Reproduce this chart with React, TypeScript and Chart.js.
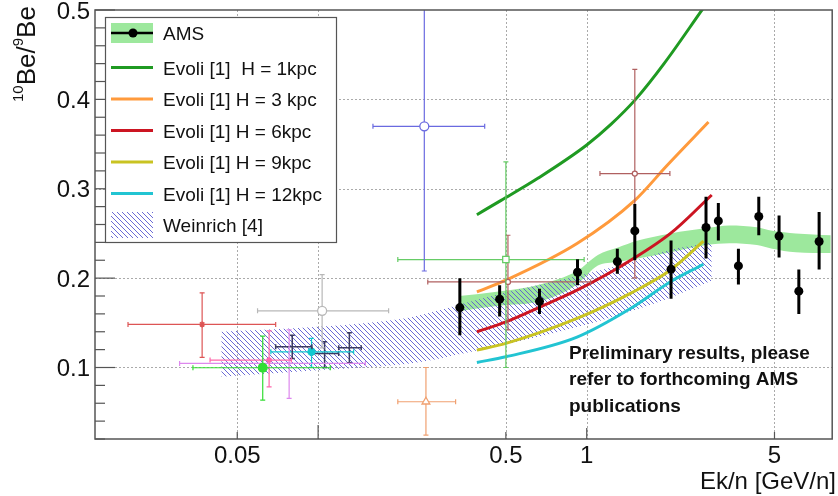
import React, { useEffect, useRef } from "react";
import { Chart, registerables } from "chart.js";
Chart.register(...registerables);

// ---------------- data ----------------
const amsEnergy = [0.337, 0.474, 0.667, 0.924, 1.3, 1.51, 2.06, 2.78, 3.09, 3.67, 4.37, 5.2, 6.16, 7.33];
const amsRatio = [0.167, 0.1765, 0.174, 0.2066, 0.2185, 0.2528, 0.21, 0.2566, 0.264, 0.2137, 0.269, 0.247, 0.1854, 0.241];
const amsErrLow = [0.136, 0.157, 0.16, 0.192, 0.205, 0.22, 0.177, 0.222, 0.242, 0.193, 0.248, 0.223, 0.16, 0.2096];
const amsErrHigh = [0.2, 0.192, 0.188, 0.221, 0.233, 0.283, 0.242, 0.291, 0.284, 0.233, 0.291, 0.27, 0.2096, 0.274];

const amsBandEnergy = [0.335, 0.47, 0.67, 0.92, 1.1, 1.3, 1.55, 2.05, 2.8, 3.4, 4.3, 4.9, 6.0, 8.1];
const amsBandHigh = [0.18, 0.185, 0.193, 0.208, 0.226, 0.234, 0.242, 0.25, 0.256, 0.259, 0.257, 0.253, 0.25, 0.248];
const amsBandLow = [0.163, 0.169, 0.174, 0.193, 0.214, 0.218, 0.222, 0.229, 0.237, 0.239, 0.237, 0.233, 0.229, 0.228];

const weinrichEnergy = [0.0436, 0.1, 0.2, 0.25, 0.35, 0.5, 0.7, 1.0, 1.5, 2.0, 2.92];
const weinrichHigh = [0.14, 0.1455, 0.154, 0.16, 0.172, 0.184, 0.194, 0.205, 0.219, 0.231, 0.24];
const weinrichLow = [0.0896, 0.097, 0.103, 0.107, 0.116, 0.126, 0.136, 0.148, 0.164, 0.177, 0.197];

const evoli1E = [0.39, 0.48, 0.66, 1.0, 1.23, 1.52, 1.94, 2.7];
const evoli1R = [0.271, 0.287, 0.312, 0.349, 0.372, 0.4, 0.44, 0.501];
const evoli3E = [0.39, 0.5, 0.92, 1.51, 1.99, 2.84];
const evoli3R = [0.1846, 0.1977, 0.2387, 0.287, 0.326, 0.3746];
const evoli6E = [0.39, 0.5, 0.674, 0.92, 1.3, 2.05, 2.92];
const evoli6R = [0.14, 0.151, 0.168, 0.1865, 0.211, 0.25, 0.293];
const evoli9E = [0.39, 0.5, 0.92, 1.455, 2.05, 2.72];
const evoli9R = [0.1194, 0.127, 0.155, 0.183, 0.209, 0.2413];
const evoli12E = [0.39, 0.5, 0.92, 1.455, 2.05, 2.72];
const evoli12R = [0.1057, 0.112, 0.134, 0.166, 0.196, 0.2155];

// other experiments
const otherEnergy = [0.037, 0.0622, 0.0657, 0.078, 0.0801, 0.0945, 0.1035, 0.1057, 0.1307, 0.2485, 0.5, 0.509, 1.51, 0.252];
const otherRatio = [0.1482, 0.0997, 0.1083, 0.1046, 0.1231, 0.1175, 0.1634, 0.1158, 0.122, 0.3698, 0.2208, 0.1958, 0.317, 0.0617];
const otherELow = [0.0196, 0.0342, 0.0396, 0.0305, 0.0695, 0.0667, 0.0595, 0.0948, 0.1193, 0.16, 0.198, 0.256, 1.12, 0.198];
const otherEHigh = [0.0695, 0.111, 0.0795, 0.15, 0.0948, 0.1356, 0.183, 0.1193, 0.1447, 0.417, 0.978, 1.034, 2.04, 0.325];
const otherRLow = [0.1113, 0.0636, 0.0784, 0.0654, 0.11, 0.1001, 0.122, 0.1, 0.1053, 0.208, 0.1, 0.142, 0.2003, 0.0244];
const otherRHigh = [0.1835, 0.135, 0.141, 0.142, 0.1362, 0.1325, 0.204, 0.1287, 0.1388, 0.56, 0.33, 0.248, 0.4335, 0.1];
const otherStyles = [
  { color: "#dd5555", shape: "star", r: 3, open: false, w: 1.2 },
  { color: "#33dd33", shape: "circle", r: 5, open: false, w: 1.2 },
  { color: "#ff66aa", shape: "star", r: 3, open: false, w: 1.2 },
  { color: "#dd88ee", shape: "circle", r: 1.5, open: false, w: 1.2 },
  { color: "#3a3a60", shape: "circle", r: 0, open: false, w: 1.5 },
  { color: "#11c8d0", shape: "circle", r: 4, open: false, w: 1.2 },
  { color: "#b8b8b8", shape: "circle", r: 4.5, open: true, w: 1.2 },
  { color: "#3a3a60", shape: "circle", r: 0, open: false, w: 1.5 },
  { color: "#3a3a60", shape: "circle", r: 0, open: false, w: 1.5 },
  { color: "#6a6ae0", shape: "circle", r: 4.5, open: true, w: 1.2 },
  { color: "#66cc66", shape: "rect", r: 4.5, open: true, w: 1.2 },
  { color: "#b06060", shape: "circle", r: 2.5, open: true, w: 1.2 },
  { color: "#b06060", shape: "circle", r: 2.5, open: true, w: 1.2 },
  { color: "#f0a070", shape: "triangle", r: 4.5, open: true, w: 1.2 },
];

const xGridValues = [0.05, 0.1, 0.5, 1, 5];
const xLabelValues = [0.05, 0.5, 1, 5];
const xLabels = ["0.05", "0.5", "1", "5"];
const yLabelValues = [0.1, 0.2, 0.3, 0.4, 0.5];
const yLabels = ["0.1", "0.2", "0.3", "0.4", "0.5"];
const yGridValues = [0.1, 0.2, 0.3, 0.4];
const yMinorStep = 0.02;

const legendLabels = [
  "AMS",
  "Evoli [1]  H = 1kpc",
  "Evoli [1] H = 3 kpc",
  "Evoli [1] H = 6kpc",
  "Evoli [1] H = 9kpc",
  "Evoli [1] H = 12kpc",
  "Weinrich [4]",
];
const evoliColors = ["#1f9a22", "#ff9a3c", "#cc1522", "#c9c322", "#22c4d2"];
const noteLines = ["Preliminary results, please", "refer to forthcoming AMS", "publications"];
const xTitle = "Ek/n [GeV/n]";

const FONT = '"Liberation Sans", Arial, Helvetica, sans-serif';

function pts(xs: number[], ys: number[]) {
  return xs.map((x, i) => ({ x, y: ys[i] }));
}

function makeHatch(color: string, size: number) {
  const c = document.createElement("canvas");
  c.width = size;
  c.height = size;
  const g = c.getContext("2d")!;
  g.strokeStyle = color;
  g.lineWidth = 1;
  g.beginPath();
  g.moveTo(-1, -1);
  g.lineTo(size + 1, size + 1);
  g.moveTo(-1, size - 1);
  g.lineTo(1, size + 1);
  g.moveTo(size - 1, -1);
  g.lineTo(size + 1, 1);
  g.stroke();
  return g.createPattern(c, "repeat")!;
}

export default function App() {
  const ref = useRef<HTMLCanvasElement | null>(null);
  useEffect(() => {
    const canvas = ref.current!;
    const hatch = makeHatch("rgba(90,90,210,0.9)", 5);
    const green = "#9de89d";

    const datasets: any[] = [];
    datasets.push({
      label: "AMS",
      data: pts(amsEnergy, amsRatio),
      showLine: false,
      pointStyle: "circle",
      pointRadius: 4.5,
      backgroundColor: "#000",
      borderColor: "#000",
      pointBorderWidth: 0,
      err: { yLow: amsErrLow, yHigh: amsErrHigh, color: "#000", width: 3, caps: false },
    });
    otherEnergy.forEach((e, i) => {
      const s = otherStyles[i];
      datasets.push({
        label: "exp" + i,
        data: [{ x: e, y: otherRatio[i] }],
        showLine: false,
        pointStyle: s.shape,
        pointRadius: s.r,
        backgroundColor: s.open ? "#fff" : s.color,
        borderColor: s.color,
        pointBorderWidth: s.open ? 1.3 : s.shape === "star" ? 1.5 : 0,
        err: {
          xLow: [otherELow[i]],
          xHigh: [otherEHigh[i]],
          yLow: [otherRLow[i]],
          yHigh: [otherRHigh[i]],
          color: s.color,
          width: s.w,
          caps: true,
        },
      });
    });
    const evE = [evoli1E, evoli3E, evoli6E, evoli9E, evoli12E];
    const evR = [evoli1R, evoli3R, evoli6R, evoli9R, evoli12R];
    evE.forEach((e, i) => {
      datasets.push({
        label: legendLabels[i + 1],
        data: pts(e, evR[i]),
        borderColor: evoliColors[i],
        borderWidth: 3,
        pointRadius: 0,
        cubicInterpolationMode: "monotone",
        fill: false,
      });
    });
    datasets.push({ label: "wlow", data: pts(weinrichEnergy, weinrichLow), borderWidth: 0, pointRadius: 0, cubicInterpolationMode: "monotone", fill: false });
    datasets.push({ label: "whigh", data: pts(weinrichEnergy, weinrichHigh), borderWidth: 0, pointRadius: 0, cubicInterpolationMode: "monotone", fill: "-1", backgroundColor: hatch });
    datasets.push({ label: "alow", data: pts(amsBandEnergy, amsBandLow), borderWidth: 0, pointRadius: 0, cubicInterpolationMode: "monotone", fill: false });
    datasets.push({ label: "ahigh", data: pts(amsBandEnergy, amsBandHigh), borderWidth: 0, pointRadius: 0, cubicInterpolationMode: "monotone", fill: "-1", backgroundColor: green });

    const line = (ctx: CanvasRenderingContext2D, x1: number, y1: number, x2: number, y2: number) => {
      ctx.beginPath();
      ctx.moveTo(x1, y1);
      ctx.lineTo(x2, y2);
      ctx.stroke();
    };

    const plugin = {
      id: "rootStyle",
      beforeDatasetsDraw(chart: any) {
        const { ctx, chartArea: a, scales } = chart;
        const x = scales.x, y = scales.y;
        ctx.save();
        ctx.strokeStyle = "#aaaaaa";
        ctx.lineWidth = 1;
        ctx.setLineDash([2, 2]);
        xGridValues.forEach((v) => {
          const px = Math.round(x.getPixelForValue(v)) + 0.5;
          line(ctx, px, a.top, px, a.bottom);
        });
        yGridValues.forEach((v) => {
          const py = Math.round(y.getPixelForValue(v)) + 0.5;
          line(ctx, a.left, py, a.right, py);
        });
        ctx.restore();
      },
      beforeDatasetDraw(chart: any, args: any) {
        const ds: any = chart.data.datasets[args.index];
        if (!ds.err) return;
        const { ctx, chartArea: a, scales } = chart;
        const x = scales.x, y = scales.y;
        const er = ds.err;
        ctx.save();
        ctx.beginPath();
        ctx.rect(a.left, a.top, a.right - a.left, a.bottom - a.top);
        ctx.clip();
        ctx.strokeStyle = er.color;
        ctx.lineWidth = er.width;
        ds.data.forEach((p: any, i: number) => {
          const px = x.getPixelForValue(p.x);
          const py = y.getPixelForValue(p.y);
          if (er.yLow) {
            const y1 = y.getPixelForValue(er.yLow[i]);
            const y2 = y.getPixelForValue(er.yHigh[i]);
            line(ctx, px, y1, px, y2);
            if (er.caps) {
              line(ctx, px - 2.5, y1, px + 2.5, y1);
              line(ctx, px - 2.5, y2, px + 2.5, y2);
            }
          }
          if (er.xLow) {
            const x1 = x.getPixelForValue(er.xLow[i]);
            const x2 = x.getPixelForValue(er.xHigh[i]);
            line(ctx, x1, py, x2, py);
            if (er.caps) {
              line(ctx, x1, py - 2.5, x1, py + 2.5);
              line(ctx, x2, py - 2.5, x2, py + 2.5);
            }
          }
        });
        ctx.restore();
      },
      afterDraw(chart: any) {
        const { ctx, chartArea: a, scales } = chart;
        const x = scales.x, y = scales.y;
        ctx.save();
        // frame
        ctx.strokeStyle = "#555";
        ctx.lineWidth = 1.5;
        ctx.strokeRect(a.left, a.top, a.right - a.left, a.bottom - a.top);
        // y ticks
        ctx.lineWidth = 1.2;
        const yMin = y.min, yMax = y.max;
        for (let k = 0; ; k++) {
          const v = Math.round((yMin + k * yMinorStep) * 1000) / 1000;
          if (v > yMax + 1e-9) break;
          const py = y.getPixelForValue(v);
          const major = Math.abs(v * 10 - Math.round(v * 10)) < 1e-6;
          line(ctx, a.left, py, a.left + (major ? 20 : 10), py);
        }
        // x ticks
        xGridValues.forEach((v) => {
          const px = x.getPixelForValue(v);
          const len = v === 0.1 ? 14 : v === 1 ? 11 : 7;
          line(ctx, px, a.bottom, px, a.bottom - len);
        });
        // tick labels
        ctx.fillStyle = "#111";
        ctx.font = "24px " + FONT;
        ctx.textAlign = "center";
        ctx.textBaseline = "alphabetic";
        xLabelValues.forEach((v, i) => {
          ctx.fillText(xLabels[i], x.getPixelForValue(v), 463);
        });
        ctx.textAlign = "right";
        yLabelValues.forEach((v, i) => {
          ctx.fillText(yLabels[i], 90, y.getPixelForValue(v) + 8.5);
        });
        // x title
        ctx.font = "24px " + FONT;
        ctx.textAlign = "right";
        ctx.fillText(xTitle, 836, 489);
        // y title (rotated)
        ctx.save();
        ctx.translate(35, 102);
        ctx.rotate(-Math.PI / 2);
        ctx.textAlign = "left";
        const parts: [string, number, boolean][] = [
          ["10", 15, true],
          ["Be/", 26, false],
          ["9", 15, true],
          ["Be", 26, false],
        ];
        let cx = 0;
        parts.forEach(([t, sz, sup]) => {
          ctx.font = sz + "px " + FONT;
          ctx.fillText(t, cx, sup ? -12 : 0);
          cx += ctx.measureText(t).width;
        });
        ctx.restore();
        // note text
        ctx.font = "bold 19px " + FONT;
        ctx.textAlign = "left";
        ctx.fillStyle = "#111";
        noteLines.forEach((t, i) => ctx.fillText(t, 569, 358.5 + i * 26.8));
        // legend
        const lx = 105, ly = 17, lw = 231, lh = 225;
        ctx.fillStyle = "#fff";
        ctx.fillRect(lx, ly, lw, lh);
        ctx.strokeStyle = "#555";
        ctx.lineWidth = 1.2;
        ctx.strokeRect(lx + 0.5, ly + 0.5, lw, lh);
        const rows = [33, 67.5, 99, 130.5, 162, 193.5, 225];
        // AMS entry
        ctx.fillStyle = green;
        ctx.fillRect(111, 23, 42, 20);
        ctx.strokeStyle = "#000";
        ctx.lineWidth = 2.5;
        line(ctx, 111, rows[0], 153, rows[0]);
        ctx.fillStyle = "#000";
        ctx.beginPath();
        ctx.arc(133, rows[0], 4.5, 0, Math.PI * 2);
        ctx.fill();
        // Evoli entries
        ctx.lineWidth = 3;
        evoliColors.forEach((c, i) => {
          ctx.strokeStyle = c;
          line(ctx, 111, rows[i + 1], 153, rows[i + 1]);
        });
        // Weinrich entry
        ctx.fillStyle = hatch;
        ctx.fillRect(111, 212, 42, 26);
        // legend text
        ctx.fillStyle = "#111";
        ctx.font = "19px " + FONT;
        ctx.textAlign = "left";
        legendLabels.forEach((t, i) => ctx.fillText(t, 163, rows[i] + 7));
        ctx.restore();
      },
    };

    const chart = new Chart(canvas, {
      type: "line",
      data: { datasets },
      options: {
        animation: false,
        responsive: false,
        events: [],
        layout: { padding: { left: 95, right: 2, top: 10, bottom: 57 } },
        plugins: { legend: { display: false }, tooltip: { enabled: false }, filler: { propagate: false } } as any,
        scales: {
          x: { type: "logarithmic", min: 0.01477, max: 8.2, display: false, bounds: "data" } as any,
          y: { type: "linear", min: 0.02, max: 0.5, display: false, bounds: "data" } as any,
        },
      },
      plugins: [plugin as any],
    });
    return () => chart.destroy();
  }, []);

  return (
    <div style={{ position: "fixed", left: 0, top: 0, width: 838, height: 496, background: "#fff" }}>
      <canvas ref={ref} width={838} height={496} style={{ width: 838, height: 496, display: "block" }} />
    </div>
  );
}
